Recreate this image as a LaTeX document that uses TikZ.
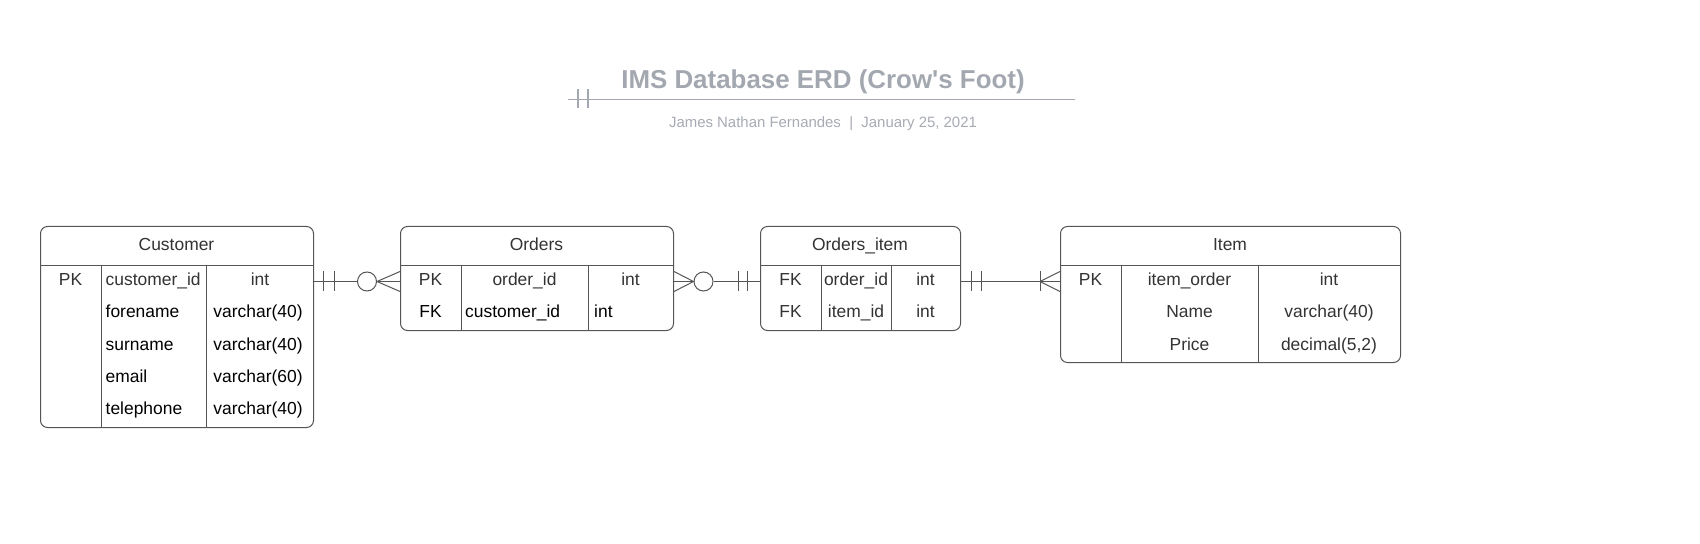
\documentclass[tikz,border=0pt]{standalone}
\usepackage{fontspec}
\setmainfont{Liberation Sans}
\definecolor{ttl}{HTML}{A3A8B0}
\definecolor{subc}{HTML}{A6AAB2}
\definecolor{bd}{HTML}{555555}
\definecolor{tx}{HTML}{333333}
\begin{document}
\begin{tikzpicture}[x=1bp,y=-1bp,
  tbl/.style={draw=bd, line width=1bp, rounded corners=7bp, anchor=north west, inner sep=0pt, fill=white},
  ln/.style={draw=bd, line width=1bp},
  conn/.style={draw=bd, line width=1bp},
  cell/.style={font=\fontsize{17.5}{20}\selectfont, text=tx, inner sep=0pt, anchor=base},
  lcell/.style={cell, anchor=base west},
  bcell/.style={cell, text=black},
  blcell/.style={lcell, text=black},
  tline/.style={draw=ttl, line width=1.6bp}]
\useasboundingbox (0,0) rectangle (1700,544);
% title
\node[font=\fontsize{26}{30}\selectfont\bfseries, text=ttl, inner sep=0pt, anchor=base] (title) at (823,89) {IMS Database ERD (Crow\textquotesingle s Foot)};
\node[font=\fontsize{15}{18}\selectfont, text=subc, inner sep=0pt, anchor=base] (subtitle) at (823,128) {James Nathan Fernandes~~|~~January 25, 2021};
\coordinate (tl1) at (568,99.5);
\coordinate (tl2) at (1075,99.5);
\draw[tline] (tl1) -- (tl2);
\draw[tline] ([xshift=10bp]tl1) ++(0,-10) -- ++(0,19);
\draw[tline] ([xshift=20bp]tl1) ++(0,-10) -- ++(0,19);
% row coordinate
\coordinate (r1) at (0,281.5);
% Customer
\node[tbl, minimum width=273bp, minimum height=201bp] (cust) at (40,226) {};
\draw[ln] (40,266) -- (313,266);
\draw[ln] (101,266) -- (101,427);
\draw[ln] (206,266) -- (206,427);
\node[cell] (custh) at (176.5,251) {Customer};
\node[cell] (c1a) at (70.5,286) {PK};
\node[lcell] (c1b) at (105.5,286) {customer\_id};
\node[cell] (c1c) at (260,286) {int};
\node[blcell] (c2b) at (105.5,318) {forename};
\node[bcell] (c2c) at (258,318) {varchar(40)};
\node[blcell] (c3b) at (105.5,350) {surname};
\node[bcell] (c3c) at (258,350) {varchar(40)};
\node[blcell] (c4b) at (105.5,382) {email};
\node[bcell] (c4c) at (258,382) {varchar(60)};
\node[blcell] (c5b) at (105.5,414) {telephone};
\node[bcell] (c5c) at (258,414) {varchar(40)};
% Orders
\node[tbl, minimum width=273bp, minimum height=104bp] (ord) at (400,226) {};
\draw[ln] (400,266) -- (673,266);
\draw[ln] (461,266) -- (461,330);
\draw[ln] (588,266) -- (588,330);
\node[cell] (ordh) at (536.5,251) {Orders};
\node[cell] (o1a) at (430.5,286) {PK};
\node[cell] (o1b) at (524.5,286) {order\_id};
\node[cell] (o1c) at (630.5,286) {int};
\node[bcell] (o2a) at (430.5,318) {FK};
\node[blcell] (o2b) at (465,318) {customer\_id};
\node[blcell] (o2c) at (594,318) {int};
% Orders_item
\node[tbl, minimum width=200bp, minimum height=104bp] (oi) at (760,226) {};
\draw[ln] (760,266) -- (960,266);
\draw[ln] (821,266) -- (821,330);
\draw[ln] (891,266) -- (891,330);
\node[cell] (oih) at (860,251) {Orders\_item};
\node[cell] (i1a) at (790.5,286) {FK};
\node[cell] (i1b) at (856,286) {order\_id};
\node[cell] (i1c) at (925.5,286) {int};
\node[cell] (i2a) at (790.5,318) {FK};
\node[cell] (i2b) at (856,318) {item\_id};
\node[cell] (i2c) at (925.5,318) {int};
% Item
\node[tbl, minimum width=340bp, minimum height=136bp] (item) at (1060,226) {};
\draw[ln] (1060,266) -- (1400,266);
\draw[ln] (1121,266) -- (1121,362);
\draw[ln] (1258,266) -- (1258,362);
\node[cell] (itemh) at (1230,251) {Item};
\node[cell] (t1a) at (1090.5,286) {PK};
\node[cell] (t1b) at (1189.5,286) {item\_order};
\node[cell] (t1c) at (1329,286) {int};
\node[cell] (t2b) at (1189.5,318) {Name};
\node[cell] (t2c) at (1329,318) {varchar(40)};
\node[cell] (t3b) at (1189.5,350) {Price};
\node[cell] (t3c) at (1329,350) {decimal(5,2)};
% Customer -- Orders : one and only one  to  zero or many
\coordinate (e1) at (cust.east |- r1);
\coordinate (e2) at (ord.west |- r1);
\node[draw=bd, line width=1bp, circle, minimum size=19bp, inner sep=0pt] (z1) at ([xshift=-33bp]e2) {};
\draw[conn] (e1) -- (z1.west);
\draw[conn] ([xshift=9bp]e1) ++(0,-10) -- ++(0,20);
\draw[conn] ([xshift=20bp]e1) ++(0,-10) -- ++(0,20);
\draw[conn] ([yshift=-10bp]e2) -- (z1.east) -- ([yshift=10bp]e2);
\draw[conn] (z1.east) -- (e2);
% Orders -- Orders_item : zero or many  to  one and only one
\coordinate (e3) at (ord.east |- r1);
\coordinate (e4) at (oi.west |- r1);
\node[draw=bd, line width=1bp, circle, minimum size=19bp, inner sep=0pt] (z2) at ([xshift=29.5bp]e3) {};
\draw[conn] ([yshift=-10bp]e3) -- (z2.west) -- ([yshift=10bp]e3);
\draw[conn] (e3) -- (z2.west);
\draw[conn] (z2.east) -- (e4);
\draw[conn] ([xshift=-22bp]e4) ++(0,-10) -- ++(0,20);
\draw[conn] ([xshift=-13bp]e4) ++(0,-10) -- ++(0,20);
% Orders_item -- Item : one and only one  to  one or many
\coordinate (e5) at (oi.east |- r1);
\coordinate (e6) at (item.west |- r1);
\draw[conn] (e5) -- (e6);
\draw[conn] ([xshift=10bp]e5) ++(0,-10) -- ++(0,20);
\draw[conn] ([xshift=20bp]e5) ++(0,-10) -- ++(0,20);
\draw[conn] ([xshift=-20bp]e6) ++(0,-10) -- ++(0,20);
\draw[conn] ([yshift=-10bp]e6) -- ([xshift=-20bp]e6) -- ([yshift=10bp]e6);
\end{tikzpicture}
\end{document}
